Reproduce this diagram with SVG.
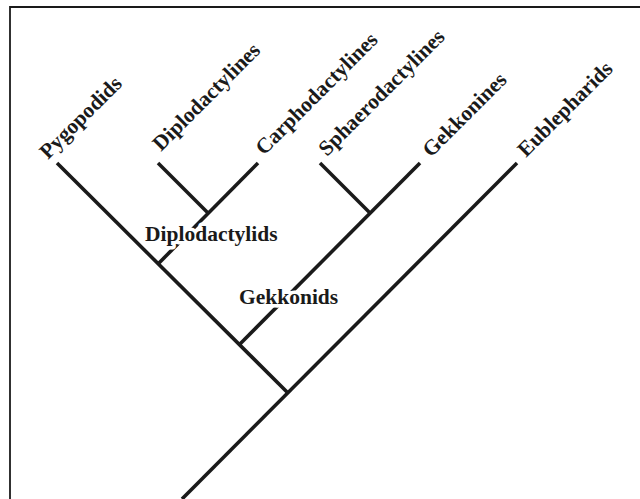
<svg xmlns="http://www.w3.org/2000/svg" width="640" height="499" viewBox="0 0 640 499">
<style>
.br{stroke:#1a1a1a;stroke-width:3.6;fill:none;stroke-linecap:butt}
.fr{stroke:#1a1a1a;fill:none}
.t{font-family:"Liberation Serif","Times New Roman",serif;font-weight:bold;font-size:21.5px;fill:#1a1a1a}
.h{stroke:#fff;stroke-width:7;paint-order:stroke;stroke-linejoin:round}
</style>
<rect width="640" height="499" fill="#fff"/>
<g id="frame">
<line class="fr" x1="10" y1="7" x2="640" y2="7" stroke-width="2.2"/>
<line class="fr" x1="10" y1="6" x2="10" y2="499" stroke-width="1.8"/>
</g>
<g id="connectors">
<line class="br" x1="182" y1="499" x2="517" y2="163"/>
<line class="br" x1="57" y1="163" x2="288" y2="393"/>
<line class="br" x1="239" y1="345" x2="420" y2="163"/>
<line class="br" x1="320" y1="163" x2="370" y2="213"/>
<line class="br" x1="158" y1="264" x2="258" y2="163"/>
<line class="br" x1="158" y1="163" x2="208" y2="213"/>
</g>
<g id="Pygopodids"><text class="t" transform="translate(48,160) rotate(-45)">Pygopodids</text></g>
<g id="Diplodactylines"><text class="t" transform="translate(161,152) rotate(-45)">Diplodactylines</text></g>
<g id="Carphodactylines"><text class="t" transform="translate(264,156) rotate(-45)">Carphodactylines</text></g>
<g id="Sphaerodactylines"><text class="t" transform="translate(327,157) rotate(-45)">Sphaerodactylines</text></g>
<g id="Gekkonines"><text class="t" transform="translate(431,158) rotate(-45)">Gekkonines</text></g>
<g id="Eublepharids"><text class="t" transform="translate(526,158) rotate(-45)">Eublepharids</text></g>
<g id="Diplodactylids"><text class="t h" x="145" y="241">Diplodactylids</text></g>
<g id="Gekkonids"><text class="t h" x="239" y="304">Gekkonids</text></g>
</svg>
